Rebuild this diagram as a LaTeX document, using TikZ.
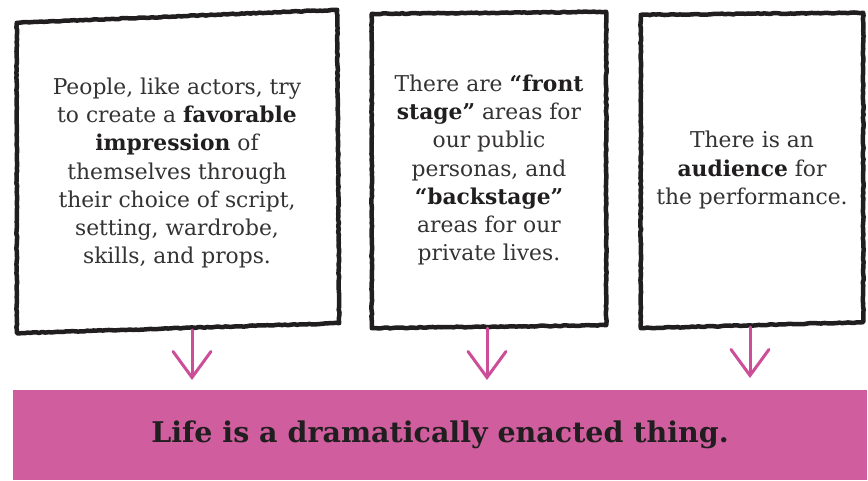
\documentclass[tikz,border=0pt]{standalone}
\usepackage{fontspec}
\usepackage{tikz}
\usetikzlibrary{arrows.meta, positioning, decorations.pathmorphing}
\newfontfamily\slabfont{DejaVu Serif}
\definecolor{inkblack}{RGB}{32, 30, 31}
\definecolor{inkgray}{RGB}{52, 50, 51}
\definecolor{stagepink}{RGB}{208, 94, 158}
\definecolor{arrowpink}{RGB}{204, 78, 152}
\newcommand{\heavy}[1]{{\bfseries\color{inkblack}#1}}

\begin{document}
\begin{tikzpicture}[
        x=1pt, y=-1pt,
        panel/.style={rectangle, align=center, text=inkgray, font=\slabfont\fontsize{21.8}{28.3}\selectfont},
        sketch/.style={draw=inkblack, line width=4.5pt, line join=round, decorate, decoration={random steps, segment length=3pt, amplitude=0.45pt}},
        flow/.style={-{Straight Barb[length=26pt, width=38pt, line width=3pt, line cap=round]}, line width=3pt, draw=arrowpink, line cap=round},
        banner/.style={rectangle, fill=stagepink, text=inkblack, minimum width=854pt, minimum height=90pt, font=\slabfont\bfseries\fontsize{28.5}{32}\selectfont}
    ]
        \useasboundingbox (0,0) rectangle (868,481);
        \fill[white] (0,0) rectangle (868,481);

        \node[panel, minimum width=320pt, minimum height=314pt] (actors) at (177,173) {People, like actors, try\\to create a \heavy{favorable}\\\heavy{impression} of\\themselves through\\their choice of script,\\setting, wardrobe,\\skills, and props.};
        \node[panel, minimum width=234pt, minimum height=316pt] (stages) at (489,170) {There are \heavy{“front}\\\heavy{stage”} areas for\\our public\\personas, and\\\heavy{“backstage”}\\areas for our\\private lives.};
        \node[panel, minimum width=222pt, minimum height=314pt] (audience) at (752,170) {There is an\\\heavy{audience} for\\the performance.};
        \node[banner] (life) at (440,435) {Life is a dramatically enacted thing.};

        \draw[sketch] ([yshift=-7pt]actors.north west) -- ([yshift=6pt]actors.north east) -- ([xshift=2pt, yshift=7pt]actors.south east) -- ([yshift=-3pt]actors.south west) -- cycle;
        \draw[sketch] ([yshift=-2pt]stages.north west) -- (stages.north east) -- ([yshift=3pt]stages.south east) -- (stages.south west) -- cycle;
        \draw[sketch] ([yshift=-2pt]audience.north west) -- (audience.north east) -- ([yshift=5pt]audience.south east) -- ([yshift=-1pt]audience.south west) -- cycle;

        \coordinate (tip1) at (192,380);
        \coordinate (tip2) at (487,380);
        \coordinate (tip3) at (750,378);
        \draw[flow] (actors.south -| tip1) -- (tip1);
        \draw[flow] (stages.south -| tip2) -- (tip2);
        \draw[flow] (audience.south -| tip3) -- (tip3);
    \end{tikzpicture}
\end{document}
